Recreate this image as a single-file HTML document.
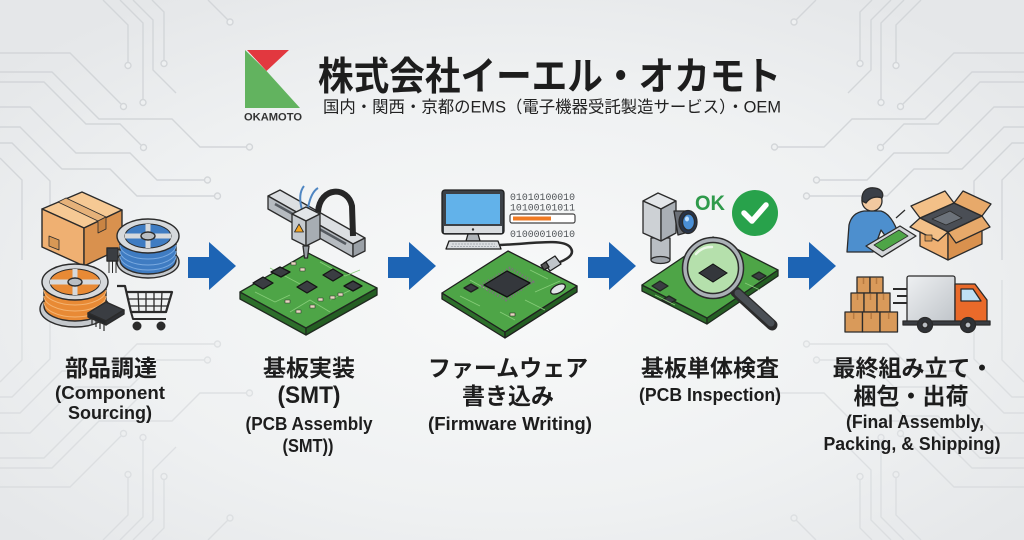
<!DOCTYPE html>
<html><head><meta charset="utf-8">
<style>
html,body{margin:0;padding:0;width:1024px;height:540px;overflow:hidden;background:#eef0f1;}
svg{display:block}
.t{font-family:"Liberation Sans","Noto Sans CJK JP",sans-serif;font-weight:bold;fill:#1d1d1d}
.mono{font-family:"Liberation Mono",monospace;fill:#505458}
</style></head><body>
<svg width="1024" height="540" viewBox="0 0 1024 540" xmlns="http://www.w3.org/2000/svg">
<defs>
<radialGradient id="bg" cx="50%" cy="55%" r="65%">
<stop offset="0" stop-color="#f8f9f9"/><stop offset="0.6" stop-color="#eff1f2"/><stop offset="1" stop-color="#e5e7e9"/>
</radialGradient>
<linearGradient id="truck" x1="0" y1="0" x2="1" y2="1">
<stop offset="0" stop-color="#eef0f2"/><stop offset="1" stop-color="#bfc4c9"/>
</linearGradient>
<g id="circ" fill="none" stroke="#d3d6d9" stroke-width="1.4">
<path d="M0,53 H70 L121,104"/>
<path d="M0,72 H52 L99,119 H172 L200,147 H246"/>
<path d="M0,82 H44 L86,124 H120 L141,145"/>
<path d="M0,107 H30 L76,153 H130 L157,180 H204"/>
<path d="M0,127 H20 L62,169 H110 L137,196 H214"/>
<path d="M0,143 H12 L50,181 V240"/>
<path d="M0,158 L22,180 V260"/>
<path d="M103,0 L128,25 V62"/>
<path d="M120,0 L143,23 V99"/>
<path d="M133,0 L153,20 V70 L176,93"/>
<path d="M152,0 L164,12 V60"/>
<path d="M208,0 L228,20"/>
<g fill="#eef0f1">
<circle cx="123.5" cy="106.5" r="3"/><circle cx="249.5" cy="147" r="3"/><circle cx="143.5" cy="147.5" r="3"/>
<circle cx="207.5" cy="180" r="3"/><circle cx="217.5" cy="196" r="3"/><circle cx="128" cy="65.5" r="3"/>
<circle cx="143" cy="102.5" r="3"/><circle cx="164" cy="63.5" r="3"/><circle cx="230" cy="22" r="3"/>
</g>
</g>
</defs>
<rect width="1024" height="540" fill="url(#bg)"/>
<use href="#circ"/>
<use href="#circ" transform="translate(1024,0) scale(-1,1)"/>
<use href="#circ" transform="translate(0,540) scale(1,-1)" opacity="0.6"/>
<use href="#circ" transform="translate(1024,540) scale(-1,-1)" opacity="0.6"/>

<!-- ===== Header ===== -->
<polygon points="245,50 266.5,71 300,108 245,108" fill="#62b35f"/>
<polygon points="247,50 289,50 266.5,71" fill="#e2383f"/>
<text x="244" y="120.5" font-family="Liberation Sans,sans-serif" font-weight="bold" font-size="11" fill="#333" textLength="58" lengthAdjust="spacingAndGlyphs">OKAMOTO</text>
<text class="t" x="318" y="90" font-size="39" fill="#221e1b" textLength="463" lengthAdjust="spacingAndGlyphs">株式会社イーエル・オカモト</text>
<text x="323" y="112.5" font-family="Liberation Sans,'Noto Sans CJK JP',sans-serif" font-size="16.5" fill="#222" textLength="458" lengthAdjust="spacingAndGlyphs">国内・関西・京都のEMS（電子機器受託製造サービス）・OEM</text>

<!-- ===== Arrows ===== -->
<g fill="#1d64b4">
<path d="M188,257 H209 V242 L236,266 L209,290 V278 H188 Z"/>
<path d="M388,257 H409 V242 L436,266 L409,290 V278 H388 Z"/>
<path d="M588,257 H609 V242 L636,266 L609,290 V278 H588 Z"/>
<path d="M788,257 H809 V242 L836,266 L809,290 V278 H788 Z"/>
</g>

<!-- ===== Icon 1: Component sourcing ===== -->
<g stroke="#2b2b2b" stroke-width="1.4" stroke-linejoin="round">
<polygon points="42,209 82,192 122,210 84,228" fill="#f6c994"/>
<polygon points="42,209 84,228 84,266 42,247" fill="#efb072"/>
<polygon points="84,228 122,210 122,248 84,266" fill="#d9914e"/>
<polygon points="58,202 66,198 106,217 98,221" fill="#e6b27a" stroke-width="0.8"/>
<polygon points="98,221 106,217 106,229 98,233" fill="#c98443" stroke-width="0.8"/>
<polygon points="49,236 59,240 59,250 49,246" fill="#d89855" stroke-width="0.8"/>
<!-- blue reel -->
<ellipse cx="148" cy="262" rx="31" ry="16" fill="#c4c8cc"/>
<path d="M120,238 V260 A28,14 0 0 0 176,260 V238 Z" fill="#3f7cc2"/>
<path d="M120,245 A28,14 0 0 0 176,245 M120,251 A28,14 0 0 0 176,251 M120,256 A28,14 0 0 0 176,256" stroke="#7aaae0" stroke-width="1" fill="none"/>
<ellipse cx="148" cy="236" rx="31" ry="17" fill="#d6d9dc"/>
<ellipse cx="148" cy="236" rx="23" ry="12" fill="#3f7cc2" stroke-width="1"/>
<path d="M125,236 H171 M148,224 V248" stroke="#d6d9dc" stroke-width="5"/>
<ellipse cx="148" cy="236" rx="7" ry="4" fill="#b9bec3"/>
<!-- transistor -->
<rect x="107" y="248" width="11" height="13" fill="#3a3d42"/>
<path d="M109,261 V273 M112.5,261 V273 M116,261 V273" stroke-width="1"/>
<!-- orange reel -->
<ellipse cx="75" cy="309" rx="35" ry="18" fill="#c4c8cc"/>
<path d="M44,283 V306 A31,15 0 0 0 106,306 V283 Z" fill="#e88a35"/>
<path d="M44,290 A31,15 0 0 0 106,290 M44,296 A31,15 0 0 0 106,296 M44,302 A31,15 0 0 0 106,302" stroke="#f4b574" stroke-width="1" fill="none"/>
<ellipse cx="75" cy="282" rx="33" ry="18" fill="#d6d9dc"/>
<ellipse cx="75" cy="282" rx="25" ry="13" fill="#e88a35" stroke-width="1"/>
<path d="M50,282 H100 M75,269 V295" stroke="#d6d9dc" stroke-width="5"/>
<ellipse cx="75" cy="282" rx="7" ry="4" fill="#b9bec3"/>
<!-- chip -->
<polygon points="88,313 106,302 124,310 106,321" fill="#3a3d42"/>
<polygon points="88,313 106,321 106,325 88,317" fill="#25272a"/>
<polygon points="106,321 124,310 124,314 106,325" fill="#2e3035"/>
<path d="M92,318 V325 M96,320 V327 M100,322 V329 M104,324 V331" stroke-width="1.2"/>
<!-- cart -->
<path d="M117,286 H125 L131,312 H166 L172,292 H127" fill="none" stroke-width="2.2"/>
<path d="M138,292 L139,312 M146,292 V312 M154,292 V312 M162,292 L161,312 M128,299 H170 M130,306 H168" fill="none" stroke-width="1.3"/>
<path d="M131,312 L133,319 H166" fill="none" stroke-width="2"/>
<circle cx="137" cy="326" r="3.8" fill="#2b2b2b"/><circle cx="161" cy="326" r="3.8" fill="#2b2b2b"/>
</g>

<!-- ===== Icon 2: SMT ===== -->
<g stroke="#1f2a1f" stroke-width="1.3" stroke-linejoin="round">
<polygon points="240,292 306,328 306,335 240,299" fill="#2d6e2b"/>
<polygon points="306,328 377,288 377,295 306,335" fill="#245e23"/>
<polygon points="240,292 308,253 377,288 306,328" fill="#4ea547"/>
<path d="M255,292 L275,302 L290,295 M270,268 L300,284 M320,262 L345,276 L360,270 M290,312 L310,300 L330,312 M330,300 L355,288" stroke="#86cc78" stroke-width="0.9" fill="none"/>
<g fill="#3a3d42" stroke="#151515">
<polygon points="253,283 263,277 273,283 263,289"/>
<polygon points="271,272 280,267 290,272 281,277"/>
<polygon points="323,275 333,269 343,275 333,281"/>
<polygon points="297,287 307,281 317,287 307,293"/>
<polygon points="344,286 353,281 362,286 353,291"/>
</g>
<g fill="#e8d8c0" stroke="#333" stroke-width="0.6">
<rect x="291" y="262" width="5" height="3"/><rect x="300" y="268" width="5" height="3"/>
<rect x="285" y="300" width="5" height="3"/><rect x="310" y="305" width="5" height="3"/>
<rect x="318" y="298" width="5" height="3"/><rect x="330" y="296" width="5" height="3"/>
<rect x="338" y="293" width="5" height="3"/><rect x="296" y="310" width="5" height="3"/>
</g>
<!-- gantry -->
<g stroke="#2b2b2b">
<polygon points="268,196 280,190 365,238 353,244" fill="#dcdfe2"/>
<polygon points="268,196 353,244 353,257 268,209" fill="#b6bbc0"/>
<line x1="275" y1="204" x2="346" y2="244" stroke="#555a60" stroke-width="2.5"/>
<polygon points="353,244 365,238 365,251 353,257" fill="#9aa0a6"/>
<path d="M318,212 C320,186 348,186 352,206 L353,236" fill="none" stroke="#262626" stroke-width="6"/>
<path d="M302,210 C299,199 300,191 304,186 M308,208 C310,197 313,191 318,188" fill="none" stroke="#4f86c2" stroke-width="2"/>
<polygon points="292,214 306,207 320,214 306,221" fill="#e2e5e8"/>
<polygon points="292,214 306,221 306,246 292,239" fill="#c5cacf"/>
<polygon points="306,221 320,214 320,239 306,246" fill="#a7adb3"/>
<polygon points="299,224 303.5,232 294.5,232" fill="#f5a623" stroke-width="0.8"/>
<polygon points="303,246 309,246 307.5,258 304.5,258" fill="#9aa0a6"/>
</g>
</g>

<!-- ===== Icon 3: Firmware ===== -->
<g stroke="#1f1f1f" stroke-width="1.3" stroke-linejoin="round">
<rect x="442" y="190" width="62" height="44" rx="3" fill="#3c4147"/>
<rect x="446" y="194" width="54" height="30" fill="#62b2ea" stroke="none"/>
<rect x="444" y="226" width="58" height="7" fill="#d9dcdf" stroke="none"/>
<circle cx="473" cy="229.5" r="1.2" fill="#333" stroke="none"/>
<polygon points="468,234 478,234 480,241 466,241" fill="#b0b5ba"/>
<polygon points="449,241 498,241 501,249 446,249" fill="#dadde0"/>
<path d="M452,244 H495 M451,246.5 H497" stroke="#9aa0a6" stroke-width="0.8" stroke-dasharray="2 1"/>
<path d="M500,245 C530,244 562,238 570,247 C575,253 570,258 560,262" fill="none" stroke="#2b2b2b" stroke-width="2.5"/>
<!-- pcb -->
<polygon points="442,293 505,332 505,338 442,299" fill="#2d6e2b"/>
<polygon points="505,332 577,286 577,292 505,338" fill="#245e23"/>
<polygon points="442,293 508,251 577,286 505,332" fill="#4ea547"/>
<path d="M460,296 L480,306 M470,280 L488,290 M530,270 L548,279 M525,300 L545,310 M500,312 L515,320 M535,292 L560,281" stroke="#86cc78" stroke-width="0.9" fill="none"/>
<polygon points="481,286 485,283 510,268 533,282 529,284 506,300" fill="none" stroke="#777" stroke-width="3" stroke-dasharray="1.2 1.8"/>
<polygon points="484,285 507,271 530,283 507,297" fill="#34373c" stroke="#111"/>
<polygon points="464,288 471,284 478,288 471,292" fill="#3a3d42"/>
<ellipse cx="558" cy="289" rx="8" ry="4" transform="rotate(-28 558 289)" fill="#e2e5e8"/>
<rect x="510" y="313" width="5" height="3" fill="#e8d8c0" stroke-width="0.6"/>
<polygon points="544,263 555,256 561,264 550,271" fill="#c0c5ca"/>
<polygon points="541,265 546,262 549,267 544,270" fill="#555"/>
</g>
<text class="mono" x="510" y="200" font-size="9.8" textLength="65" lengthAdjust="spacingAndGlyphs">01010100010</text>
<text class="mono" x="510" y="210.5" font-size="9.8" textLength="65" lengthAdjust="spacingAndGlyphs">10100101011</text>
<rect x="510" y="214" width="65" height="9" rx="2" fill="#fff" stroke="#444" stroke-width="1.2"/>
<rect x="513" y="216.5" width="38" height="4" fill="#f07a22"/>
<text class="mono" x="510" y="237" font-size="9.8" textLength="65" lengthAdjust="spacingAndGlyphs">01000010010</text>

<!-- ===== Icon 4: Inspection ===== -->
<g stroke="#1f2a1f" stroke-width="1.3" stroke-linejoin="round">
<polygon points="642,285 707,318 707,324 642,291" fill="#2d6e2b"/>
<polygon points="707,318 778,270 778,276 707,324" fill="#245e23"/>
<polygon points="642,285 713,237 778,270 707,318" fill="#4ea547"/>
<polygon points="652,286 660,281 668,286 660,291" fill="#3a3d42"/>
<polygon points="662,300 669,296 676,300 669,304" fill="#3a3d42"/>
<polygon points="752,276 759,272 766,276 759,280" fill="#3a3d42"/>
<path d="M655,295 L675,305 M745,283 L760,290" stroke="#86cc78" stroke-width="0.9" fill="none"/>
</g>
<g stroke="#2b2b2b" stroke-width="1.3" stroke-linejoin="round">
<rect x="651" y="238" width="19" height="22" fill="#b9bec3"/>
<ellipse cx="660.5" cy="260" rx="9.5" ry="3.5" fill="#9ea4aa"/>
<polygon points="643,201 658,193 676,201 661,209" fill="#e3e6e9"/>
<polygon points="643,201 661,209 661,241 643,233" fill="#cdd1d5"/>
<polygon points="661,209 676,201 676,233 661,241" fill="#a9afb5"/>
<polygon points="674,211 686,211 692,231 678,235" fill="#6b7077"/>
<ellipse cx="688" cy="222" rx="9" ry="11.5" fill="#27344a"/>
<ellipse cx="688.5" cy="222" rx="6" ry="8" fill="#4a8fd6"/>
<ellipse cx="687" cy="219" rx="2" ry="2.5" fill="#bfe0ff" stroke="none"/>
</g>
<text x="695" y="210" font-family="Liberation Sans,sans-serif" font-weight="bold" font-size="21" fill="#2f9a4b" textLength="30" lengthAdjust="spacingAndGlyphs">OK</text>
<circle cx="755" cy="213" r="23" fill="#28a24b"/>
<path d="M744,213 L752,221 L766,205" fill="none" stroke="#fff" stroke-width="5.5" stroke-linecap="round" stroke-linejoin="round"/>
<line x1="736" y1="292" x2="772" y2="325" stroke="#2b2b2b" stroke-width="11" stroke-linecap="round"/>
<line x1="738" y1="293" x2="771" y2="323" stroke="#4a4f55" stroke-width="7" stroke-linecap="round"/>
<circle cx="713" cy="268" r="28" fill="#b5e0ac" stroke="#2b2b2b" stroke-width="6.5"/>
<circle cx="713" cy="268" r="28" fill="none" stroke="#aab0b6" stroke-width="3.5"/>
<polygon points="699,273 713,264 727,273 713,282" fill="#34373c" stroke="#111" stroke-width="1"/>
<path d="M696,254 A20,20 0 0 1 712,247" fill="none" stroke="#eaf7e6" stroke-width="2.5" stroke-linecap="round"/>

<!-- ===== Icon 5: Final assembly ===== -->
<g stroke="#2b2b2b" stroke-width="1.3" stroke-linejoin="round">
<path d="M847,252 L849,225 C851,216 857,212 864,211 L881,211 C888,213 893,220 897,230 L899,236 L889,241 L881,230 L873,252 Z" fill="#4d8fce"/>
<circle cx="872" cy="201" r="10" fill="#f2c9a0"/>
<path d="M862,201 C861,190 868,187 875,188 C882,189 884,194 882,198 C877,196 870,197 866,203 Z" fill="#3a3f47"/>
<polygon points="866,246 900,226 916,236 882,257" fill="#d3d6d9"/>
<polygon points="874,245 899,230 908,236 883,251" fill="#4ea547" stroke-width="0.8"/>
<line x1="896" y1="218" x2="905" y2="210" stroke-width="1.2"/>
<polygon points="920,218 954,203 982,216 948,232" fill="#4a4e55"/>
<polygon points="932,219 950,211 962,218 946,225" fill="#6c727a" stroke-width="0.8"/>
<polygon points="920,218 954,203 945,191 911,206" fill="#f3c088"/>
<polygon points="954,203 982,216 991,204 963,191" fill="#e7a96a"/>
<polygon points="920,218 948,232 948,260 920,246" fill="#efb072"/>
<polygon points="948,232 982,216 982,244 948,260" fill="#d9914e"/>
<polygon points="920,218 948,232 938,241 910,227" fill="#f3c088"/>
<polygon points="948,232 982,216 990,227 956,243" fill="#e7a96a"/>
<rect x="925" y="235" width="7" height="6" fill="#d89855" stroke-width="0.7"/>
<g fill="#d99a5a">
<rect x="857" y="277" width="13" height="16"/><rect x="870" y="277" width="13" height="16"/>
<rect x="851" y="293" width="13" height="19"/><rect x="864" y="293" width="13" height="19"/><rect x="877" y="293" width="13" height="19"/>
<rect x="845" y="312" width="17.5" height="20"/><rect x="862.5" y="312" width="17.5" height="20"/><rect x="880" y="312" width="17.5" height="20"/>
</g>
<g stroke="#b87a40" stroke-width="1.5">
<path d="M863.5,278 V284 M876.5,278 V284 M857.5,294 V300 M870.5,294 V300 M883.5,294 V300 M853.7,313 V319 M871.2,313 V319 M888.7,313 V319"/>
</g>
<path d="M893,289 H916 M897,296 H916 M893,303 H916" stroke-width="2" fill="none"/>
<rect x="907" y="276" width="48" height="47" rx="2" fill="url(#truck)"/>
<path d="M955,284 H975 L987,300 V322 H955 Z" fill="#ea6a2a"/>
<polygon points="961,289 973,289 981,301 961,301" fill="#bfe0f5"/>
<rect x="903" y="321" width="87" height="4" fill="#3a3d42"/>
<circle cx="925" cy="325" r="7.5" fill="#2f3236"/><circle cx="925" cy="325" r="3" fill="#b9bec3"/>
<circle cx="968" cy="325" r="7.5" fill="#2f3236"/><circle cx="968" cy="325" r="3" fill="#b9bec3"/>
</g>

<!-- ===== Labels ===== -->
<g class="t" text-anchor="middle">
<text x="111" y="376" font-size="23">部品調達</text>
<text x="110" y="399" font-size="18" textLength="110" lengthAdjust="spacingAndGlyphs">(Component</text>
<text x="110" y="419" font-size="18" textLength="84" lengthAdjust="spacingAndGlyphs">Sourcing)</text>

<text x="309" y="376" font-size="23">基板実装</text>
<text x="309" y="403" font-size="24" textLength="63" lengthAdjust="spacingAndGlyphs">(SMT)</text>
<text x="309" y="430" font-size="18" textLength="127" lengthAdjust="spacingAndGlyphs">(PCB Assembly</text>
<text x="308" y="452" font-size="18" textLength="51" lengthAdjust="spacingAndGlyphs">(SMT))</text>

<text x="508" y="376" font-size="23">ファームウェア</text>
<text x="508" y="404" font-size="23">書き込み</text>
<text x="510" y="430" font-size="18" textLength="164" lengthAdjust="spacingAndGlyphs">(Firmware Writing)</text>

<text x="710" y="376" font-size="23">基板単体検査</text>
<text x="710" y="401" font-size="18" textLength="142" lengthAdjust="spacingAndGlyphs">(PCB Inspection)</text>

<text x="913" y="376" font-size="23">最終組み立て・</text>
<text x="911" y="404" font-size="23">梱包・出荷</text>
<text x="915" y="428" font-size="18" textLength="138" lengthAdjust="spacingAndGlyphs">(Final Assembly,</text>
<text x="912" y="450" font-size="18" textLength="177" lengthAdjust="spacingAndGlyphs">Packing, &amp; Shipping)</text>
</g>
</svg>
</body></html>
